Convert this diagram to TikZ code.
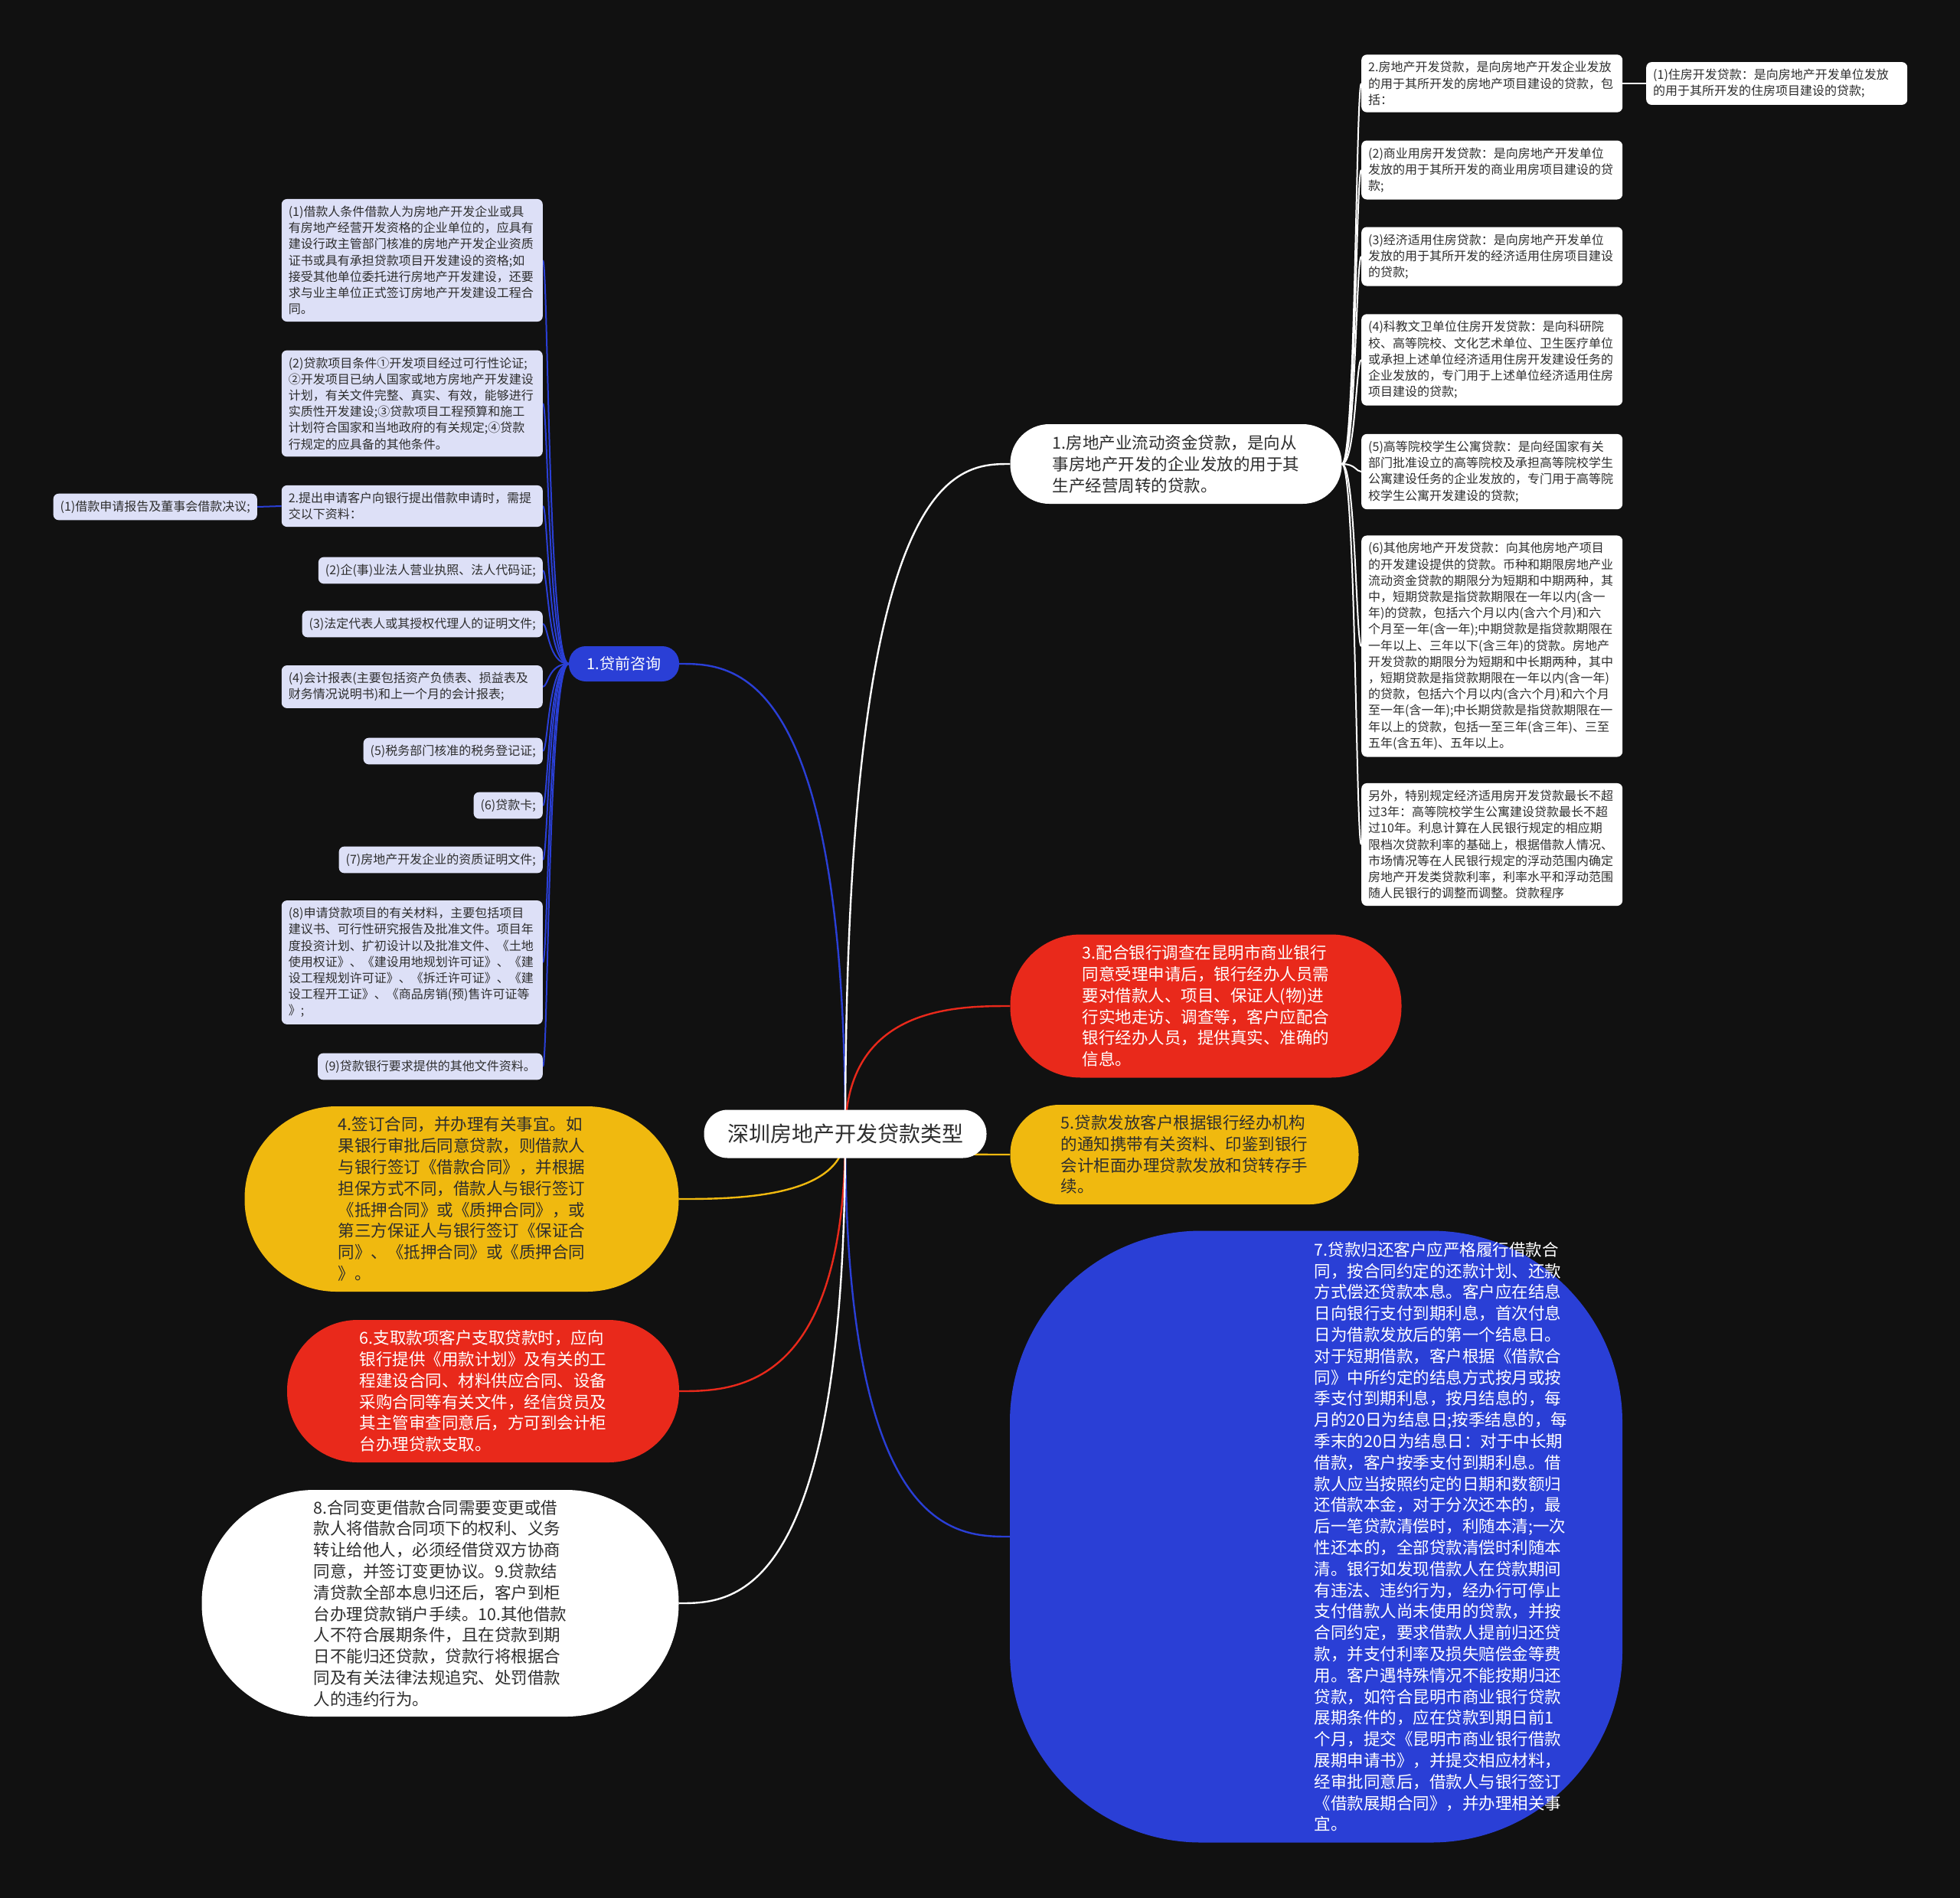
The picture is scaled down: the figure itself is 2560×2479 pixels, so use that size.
\documentclass[tikz,border=0pt]{standalone}
\usepackage{fontspec}
\setmainfont{Noto Sans CJK SC}
\usepackage{tikz}
\usetikzlibrary{backgrounds}

\definecolor{bgdark}{HTML}{111111}
\definecolor{lilac}{RGB}{221,224,247}
\definecolor{qblue}{RGB}{42,63,214}
\definecolor{qred}{RGB}{233,41,27}
\definecolor{qyellow}{RGB}{240,185,15}
\definecolor{ink}{HTML}{2E2E2E}

\newcommand{\leaffont}{\fontsize{16pt}{21.2pt}\selectfont}
\newcommand{\bubfont}{\fontsize{21.5pt}{27.8pt}\selectfont}
\newcommand{\hubfont}{\fontsize{28pt}{34pt}\selectfont}
\newcommand{\askfont}{\fontsize{20pt}{24pt}\selectfont}

\begin{document}
\begin{tikzpicture}[
    x=1pt, y=-1pt,
    leaf/.style={fill=lilac, text=ink, rounded corners=7pt, inner xsep=9pt,
                 inner ysep=9pt, align=left, font=\leaffont},
    wide/.style={leaf, text width=323pt},
    note/.style={wide, fill=white},
    bub/.style={rounded corners=#1pt, inner sep=0pt, align=left, font=\bubfont},
    hub/.style={fill=white, text=ink, rounded corners=31pt, minimum width=369pt,
                minimum height=63pt, font=\hubfont},
    stem/.style={line width=2.4pt},
    twig/.style={line width=2pt},
]
\useasboundingbox (0,0) rectangle (2560,2479);
\begin{scope}[on background layer]
\fill[bgdark] (0,0) rectangle (2560,2479);
\end{scope}

% root and first level
\node[hub] (root) at (1104,1481) {深圳房地产开发贷款类型};
\node[fill=qblue, text=white, rounded corners=22pt, minimum width=144pt,
      minimum height=46pt, font=\askfont] (ask) at (815,867) {1.贷前咨询};

\node[bub=51, fill=white, text=ink, minimum width=433pt, minimum height=104pt] (n1) at (1536,606)
  {1.房地产业流动资金贷款，是向从\\事房地产开发的企业发放的用于其\\生产经营周转的贷款。};
\node[bub=92, fill=qred, text=white, minimum width=511pt, minimum height=187pt] (n3) at (1575,1314)
  {3.配合银行调查在昆明市商业银行\\同意受理申请后，银行经办人员需\\要对借款人、项目、保证人(物)进\\行实地走访、调查等，客户应配合\\银行经办人员，提供真实、准确的\\信息。};
\node[bub=64, fill=qyellow, text=ink, minimum width=455pt, minimum height=130pt] (n5) at (1547,1508)
  {5.贷款发放客户根据银行经办机构\\的通知携带有关资料、印鉴到银行\\会计柜面办理贷款发放和贷转存手\\续。};
\node[bub=250, fill=qblue, minimum width=800pt, minimum height=799pt] (n7) at (1719,2007) {};
\node[font=\bubfont, text=white, align=left, inner sep=0pt] (n7txt) at (1882,2007)
  {7.贷款归还客户应严格履行借款合\\同，按合同约定的还款计划、还款\\方式偿还贷款本息。客户应在结息\\日向银行支付到期利息，首次付息\\日为借款发放后的第一个结息日。\\对于短期借款，客户根据《借款合\\同》中所约定的结息方式按月或按\\季支付到期利息，按月结息的，每\\月的20日为结息日;按季结息的，每\\季末的20日为结息日：对于中长期\\借款，客户按季支付到期利息。借\\款人应当按照约定的日期和数额归\\还借款本金，对于分次还本的，最\\后一笔贷款清偿时，利随本清;一次\\性还本的，全部贷款清偿时利随本\\清。银行如发现借款人在贷款期间\\有违法、违约行为，经办行可停止\\支付借款人尚未使用的贷款，并按\\合同约定，要求借款人提前归还贷\\款，并支付利率及损失赔偿金等费\\用。客户遇特殊情况不能按期归还\\贷款，如符合昆明市商业银行贷款\\展期条件的，应在贷款到期日前1\\个月，提交《昆明市商业银行借款\\展期申请书》，并提交相应材料，\\经审批同意后，借款人与银行签订\\《借款展期合同》，并办理相关事\\宜。};

\node[bub=120, fill=qyellow, text=ink, minimum width=567pt, minimum height=242pt] (n4) at (603,1566)
  {4.签订合同，并办理有关事宜。如\\果银行审批后同意贷款，则借款人\\与银行签订《借款合同》，并根据\\担保方式不同，借款人与银行签订\\《抵押合同》或《质押合同》，或\\第三方保证人与银行签订《保证合\\同》、《抵押合同》或《质押合同\\》。};
\node[bub=92, fill=qred, text=white, minimum width=512pt, minimum height=186pt] (n6) at (631,1817)
  {6.支取款项客户支取贷款时，应向\\银行提供《用款计划》及有关的工\\程建设合同、材料供应合同、设备\\采购合同等有关文件，经信贷员及\\其主管审查同意后，方可到会计柜\\台办理贷款支取。};
\node[bub=147, fill=white, text=ink, minimum width=623pt, minimum height=296pt] (n8) at (575,2094)
  {8.合同变更借款合同需要变更或借\\款人将借款合同项下的权利、义务\\转让给他人，必须经借贷双方协商\\同意，并签订变更协议。9.贷款结\\清贷款全部本息归还后，客户到柜\\台办理贷款销户手续。10.其他借款\\人不符合展期条件，且在贷款到期\\日不能归还贷款，贷款行将根据合\\同及有关法律法规追究、处罚借款\\人的违约行为。};

% pre-loan consultation items
\node[wide, anchor=east] (l1) at (709,340)
  {(1)借款人条件借款人为房地产开发企业或具\\有房地产经营开发资格的企业单位的，应具有\\建设行政主管部门核准的房地产开发企业资质\\证书或具有承担贷款项目开发建设的资格;如\\接受其他单位委托进行房地产开发建设，还要\\求与业主单位正式签订房地产开发建设工程合\\同。};
\node[wide, anchor=east] (l2) at (709,527)
  {(2)贷款项目条件①开发项目经过可行性论证;\\②开发项目已纳人国家或地方房地产开发建设\\计划，有关文件完整、真实、有效，能够进行\\实质性开发建设;③贷款项目工程预算和施工\\计划符合国家和当地政府的有关规定;④贷款\\行规定的应具备的其他条件。};
\node[wide, anchor=east] (l3) at (709,661)
  {2.提出申请客户向银行提出借款申请时，需提\\交以下资料：};
\node[leaf, anchor=east] (l3a) at (336,662) {(1)借款申请报告及董事会借款决议;};
\node[leaf, anchor=east] (l4) at (709,745) {(2)企(事)业法人营业执照、法人代码证;};
\node[leaf, anchor=east] (l5) at (709,815) {(3)法定代表人或其授权代理人的证明文件;};
\node[wide, anchor=east] (l6) at (709,897)
  {(4)会计报表(主要包括资产负债表、损益表及\\财务情况说明书)和上一个月的会计报表;};
\node[leaf, anchor=east] (l7) at (709,981) {(5)税务部门核准的税务登记证;};
\node[leaf, anchor=east] (l8) at (709,1052) {(6)贷款卡;};
\node[leaf, anchor=east] (l9) at (709,1123) {(7)房地产开发企业的资质证明文件;};
\node[wide, anchor=east] (l10) at (709,1257)
  {(8)申请贷款项目的有关材料，主要包括项目\\建议书、可行性研究报告及批准文件。项目年\\度投资计划、扩初设计以及批准文件、《土地\\使用权证》、《建设用地规划许可证》、《建\\设工程规划许可证》、《拆迁许可证》、《建\\设工程开工证》、《商品房销(预)售许可证等\\》;};
\node[leaf, anchor=east] (l11) at (709,1393) {(9)贷款银行要求提供的其他文件资料。};

% development loan items
\node[note, anchor=west] (r0) at (1778,109)
  {2.房地产开发贷款，是向房地产开发企业发放\\的用于其所开发的房地产项目建设的贷款，包\\括：};
\node[note, anchor=west] (r0a) at (2150,109)
  {(1)住房开发贷款：是向房地产开发单位发放\\的用于其所开发的住房项目建设的贷款;};
\node[note, anchor=west] (r1) at (1778,222)
  {(2)商业用房开发贷款：是向房地产开发单位\\发放的用于其所开发的商业用房项目建设的贷\\款;};
\node[note, anchor=west] (r2) at (1778,335)
  {(3)经济适用住房贷款：是向房地产开发单位\\发放的用于其所开发的经济适用住房项目建设\\的贷款;};
\node[note, anchor=west] (r3) at (1778,470)
  {(4)科教文卫单位住房开发贷款：是向科研院\\校、高等院校、文化艺术单位、卫生医疗单位\\或承担上述单位经济适用住房开发建设任务的\\企业发放的，专门用于上述单位经济适用住房\\项目建设的贷款;};
\node[note, anchor=west] (r4) at (1778,616)
  {(5)高等院校学生公寓贷款：是向经国家有关\\部门批准设立的高等院校及承担高等院校学生\\公寓建设任务的企业发放的，专门用于高等院\\校学生公寓开发建设的贷款;};
\node[note, anchor=west] (r5) at (1778,844)
  {(6)其他房地产开发贷款：向其他房地产项目\\的开发建设提供的贷款。币种和期限房地产业\\流动资金贷款的期限分为短期和中期两种，其\\中，短期贷款是指贷款期限在一年以内(含一\\年)的贷款，包括六个月以内(含六个月)和六\\个月至一年(含一年);中期贷款是指贷款期限在\\一年以上、三年以下(含三年)的贷款。房地产\\开发贷款的期限分为短期和中长期两种，其中\\，短期贷款是指贷款期限在一年以内(含一年)\\的贷款，包括六个月以内(含六个月)和六个月\\至一年(含一年);中长期贷款是指贷款期限在一\\年以上的贷款，包括一至三年(含三年)、三至\\五年(含五年)、五年以上。};
\node[note, anchor=west] (r6) at (1778,1103)
  {另外，特别规定经济适用房开发贷款最长不超\\过3年：高等院校学生公寓建设贷款最长不超\\过10年。利息计算在人民银行规定的相应期\\限档次贷款利率的基础上，根据借款人情况、\\市场情况等在人民银行规定的浮动范围内确定\\房地产开发类贷款利率，利率水平和浮动范围\\随人民银行的调整而调整。贷款程序};

\begin{scope}[on background layer]
% root connectors
\draw[stem, qblue] (root.center) .. controls (root.center |- ask.east) and ([xshift=70pt]ask.east) .. (ask.east);
\draw[stem, white] (root.center) .. controls (root.center |- n1.west) and ([xshift=-70pt]n1.west) .. (n1.west);
\draw[stem, qred] (root.center) .. controls (root.center |- n3.west) and ([xshift=-70pt]n3.west) .. (n3.west);
\draw[stem, qyellow] (root.center) .. controls (root.center |- n5.west) and ([xshift=-60pt]n5.west) .. (n5.west);
\draw[stem, qblue] (root.center) .. controls (root.center |- n7.west) and ([xshift=-70pt]n7.west) .. (n7.west);
\draw[stem, qyellow] (root.center) .. controls (root.center |- n4.east) and ([xshift=70pt]n4.east) .. (n4.east);
\draw[stem, qred] (root.center) .. controls (root.center |- n6.east) and ([xshift=70pt]n6.east) .. (n6.east);
\draw[stem, white] (root.center) .. controls (root.center |- n8.east) and ([xshift=70pt]n8.east) .. (n8.east);

% consultation branch
\draw[twig, qblue] (ask.west) .. controls ([xshift=-27pt]ask.west) and ([xshift=7pt]l1.east) .. (l1.east);
\draw[twig, qblue] (ask.west) .. controls ([xshift=-27pt]ask.west) and ([xshift=7pt]l2.east) .. (l2.east);
\draw[twig, qblue] (ask.west) .. controls ([xshift=-27pt]ask.west) and ([xshift=7pt]l3.east) .. (l3.east);
\draw[twig, qblue] (ask.west) .. controls ([xshift=-27pt]ask.west) and ([xshift=7pt]l4.east) .. (l4.east);
\draw[twig, qblue] (ask.west) .. controls ([xshift=-27pt]ask.west) and ([xshift=7pt]l5.east) .. (l5.east);
\draw[twig, qblue] (ask.west) .. controls ([xshift=-27pt]ask.west) and ([xshift=7pt]l6.east) .. (l6.east);
\draw[twig, qblue] (ask.west) .. controls ([xshift=-27pt]ask.west) and ([xshift=7pt]l7.east) .. (l7.east);
\draw[twig, qblue] (ask.west) .. controls ([xshift=-27pt]ask.west) and ([xshift=7pt]l8.east) .. (l8.east);
\draw[twig, qblue] (ask.west) .. controls ([xshift=-27pt]ask.west) and ([xshift=7pt]l9.east) .. (l9.east);
\draw[twig, qblue] (ask.west) .. controls ([xshift=-27pt]ask.west) and ([xshift=7pt]l10.east) .. (l10.east);
\draw[twig, qblue] (ask.west) .. controls ([xshift=-27pt]ask.west) and ([xshift=7pt]l11.east) .. (l11.east);
\draw[twig, qblue] (l3.west) -- (l3a.east);

% working capital branch
\draw[twig, white] (n1.east) .. controls ([xshift=18pt]n1.east) and ([xshift=-7pt]r0.west) .. (r0.west);
\draw[twig, white] (n1.east) .. controls ([xshift=18pt]n1.east) and ([xshift=-7pt]r1.west) .. (r1.west);
\draw[twig, white] (n1.east) .. controls ([xshift=18pt]n1.east) and ([xshift=-7pt]r2.west) .. (r2.west);
\draw[twig, white] (n1.east) .. controls ([xshift=18pt]n1.east) and ([xshift=-7pt]r3.west) .. (r3.west);
\draw[twig, white] (n1.east) .. controls ([xshift=18pt]n1.east) and ([xshift=-7pt]r4.west) .. (r4.west);
\draw[twig, white] (n1.east) .. controls ([xshift=18pt]n1.east) and ([xshift=-7pt]r5.west) .. (r5.west);
\draw[twig, white] (n1.east) .. controls ([xshift=18pt]n1.east) and ([xshift=-7pt]r6.west) .. (r6.west);
\draw[twig, white] (r0.east) -- (r0a.west);
\end{scope}

\end{tikzpicture}
\end{document}
